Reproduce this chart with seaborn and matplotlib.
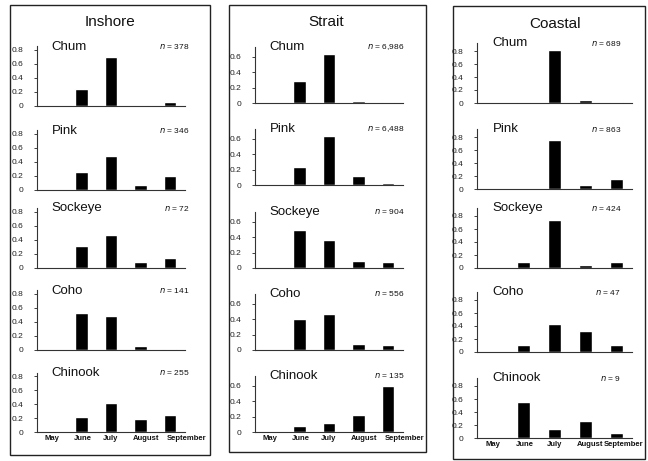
import numpy as np
import pandas as pd
import matplotlib
matplotlib.use("Agg")
import matplotlib.pyplot as plt
import seaborn as sns
from matplotlib.patches import Rectangle
from matplotlib.transforms import ScaledTranslation

# Proportion of catch by month, per region and species
months = ["May", "June", "July", "August", "September"]
species = ["Chum", "Pink", "Sockeye", "Coho", "Chinook"]

inshore_chum = [0.0, 0.24, 0.70, 0.01, 0.05]
inshore_pink = [0.0, 0.25, 0.48, 0.07, 0.20]
inshore_sockeye = [0.0, 0.31, 0.47, 0.08, 0.15]
inshore_coho = [0.0, 0.53, 0.48, 0.06, 0.01]
inshore_chinook = [0.0, 0.21, 0.41, 0.18, 0.24]
inshore_n = ["378", "346", "72", "141", "255"]

strait_chum = [0.0, 0.28, 0.63, 0.02, 0.01]
strait_pink = [0.0, 0.23, 0.63, 0.12, 0.03]
strait_sockeye = [0.0, 0.50, 0.37, 0.09, 0.08]
strait_coho = [0.0, 0.40, 0.47, 0.08, 0.07]
strait_chinook = [0.0, 0.08, 0.12, 0.22, 0.60]
strait_n = ["6,986", "6,488", "904", "556", "135"]

coastal_chum = [0.0, 0.01, 0.82, 0.05, 0.01]
coastal_pink = [0.0, 0.0, 0.76, 0.06, 0.15]
coastal_sockeye = [0.0, 0.10, 0.74, 0.05, 0.10]
coastal_coho = [0.0, 0.11, 0.43, 0.33, 0.11]
coastal_chinook = [0.0, 0.56, 0.14, 0.26, 0.07]
coastal_n = ["689", "863", "424", "47", "9"]

sns.set_style("white")
plt.rcParams['font.family'] = ['Liberation Sans', 'DejaVu Sans']

W, H = 648, 461
fig = plt.figure(figsize=(W / 100, H / 100), dpi=100)


def axes_px(left, right, bottom, height):
    return fig.add_axes([left / W, 1 - bottom / H, (right - left) / W, height / H])


# layout per region (pixels); shift = month label nudge in points
regions = [
    dict(title="Inshore", tx=110, ty=22, box=(10, 5, 210, 455), left=37, right=185,
         bottoms=[106, 190, 268, 350, 432], ppu=70, ymax=0.85,
         ticks=[0, 0.2, 0.4, 0.6, 0.8], nx=1.03, shift=[0, 1, 0, 4, 12],
         data=[inshore_chum, inshore_pink, inshore_sockeye, inshore_coho, inshore_chinook],
         n=inshore_n),
    dict(title="Strait", tx=326, ty=22, box=(229, 5, 426, 452), left=255, right=403,
         bottoms=[103, 185, 268, 350, 432], ppu=77, ymax=0.73,
         ticks=[0, 0.2, 0.4, 0.6], nx=1.01, shift=[0, 1, 0, 4, 12],
         data=[strait_chum, strait_pink, strait_sockeye, strait_coho, strait_chinook],
         n=strait_n),
    dict(title="Coastal", tx=555, ty=24, box=(453, 6, 645, 459), left=477, right=632,
         bottoms=[103, 189, 268, 352, 438], ppu=65, ymax=0.92,
         ticks=[0, 0.2, 0.4, 0.6, 0.8], nx=0.93, shift=[0, 1, 0, 3, 5],
         data=[coastal_chum, coastal_pink, coastal_sockeye, coastal_coho, coastal_chinook],
         n=coastal_n),
]

for reg in regions:
    x0, y0, x1, y1 = reg["box"]
    fig.patches.append(Rectangle((x0 / W, 1 - y1 / H), (x1 - x0) / W, (y1 - y0) / H,
                                 transform=fig.transFigure, fill=False,
                                 edgecolor="#222222", linewidth=1.0))
    fig.text(reg["tx"] / W, 1 - reg["ty"] / H, reg["title"], ha="center", va="center",
             fontsize=11, color="#111111")

    for i, sp in enumerate(species):
        ax = axes_px(reg["left"], reg["right"], reg["bottoms"][i], reg["ymax"] * reg["ppu"])
        df = pd.DataFrame({"month": months, "prop": reg["data"][i]})
        sns.barplot(data=df, x="month", y="prop", order=months, color="black",
                    saturation=1, width=0.42, ax=ax)
        ax.set_xlim(-0.5, 4.5)
        ax.set_ylim(0, reg["ymax"])
        ax.set_yticks(reg["ticks"])
        ax.set_yticklabels(["0" if t == 0 else f"{t:.1f}" for t in reg["ticks"]])
        ax.set_xlabel("")
        ax.set_ylabel("")
        for s in ["top", "right"]:
            ax.spines[s].set_visible(False)
        for s in ["left", "bottom"]:
            ax.spines[s].set_color("#333333")
            ax.spines[s].set_linewidth(0.8)
        ax.tick_params(axis="y", length=2, width=0.6, pad=8, labelsize=6, colors="#222222",
                       left=True)
        ax.tick_params(axis="x", length=0)
        ax.set_xticklabels([])
        if i == len(species) - 1:
            for k, m in enumerate(months):
                off = ScaledTranslation(reg["shift"][k] / 72, 0, fig.dpi_scale_trans)
                ax.text(k, -0.05, m, transform=ax.get_xaxis_transform() + off,
                        ha="center", va="top", fontsize=5.5, fontweight="bold",
                        color="#111111")
        ax.text(0.1, 1.0, sp, transform=ax.transAxes, ha="left", va="center",
                fontsize=9.5, color="#111111")
        ax.text(reg["nx"], 1.0, "$n$ = " + reg["n"][i], transform=ax.transAxes,
                ha="right", va="center", fontsize=6, color="#111111")
        ax.patch.set_alpha(0)

fig.savefig("out.png", dpi=100, facecolor="white")
